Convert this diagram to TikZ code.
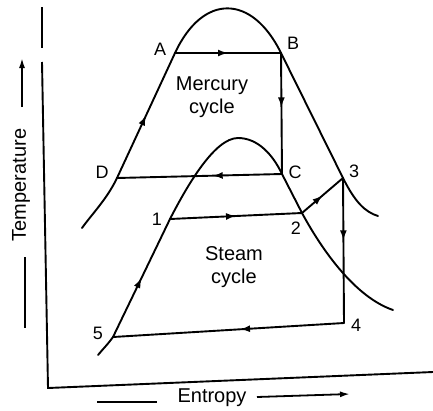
\documentclass[tikz,border=0pt]{standalone}
\usepackage{fontspec}
\setmainfont{Liberation Sans}
\usetikzlibrary{arrows.meta,decorations.markings}
\begin{document}
\begin{tikzpicture}[x=1pt,y=-1pt,
  curve/.style={line width=1.9pt, line join=round, line cap=round},
  midarrow/.style={curve, postaction={decorate},
    decoration={markings, mark=at position #1 with {\arrow{Latex[length=10pt,width=7pt]}}}},
  midarrow/.default=0.5,
  ptlabel/.style={font=\fontsize{18}{21}\selectfont, inner sep=0pt},
  cyclelabel/.style={font=\fontsize{20}{23}\selectfont, align=center, inner sep=0pt},
  axislabel/.style={font=\fontsize{20}{23}\selectfont, inner sep=0pt},
  axisline/.style={line width=1.9pt},
  labelarrow/.style={line width=1.8pt, -{Latex[length=10pt,width=6pt]}},
]
\useasboundingbox (0,0) rectangle (433,410);

% points
\coordinate (A) at (175,53);
\coordinate (B) at (281,53);
\coordinate (C) at (282,174);
\coordinate (D) at (117,178);
\coordinate (P1) at (170,219);
\coordinate (P2) at (302,213);
\coordinate (P3) at (343,178);
\coordinate (P4) at (344,323);
\coordinate (P5) at (113,337);
\coordinate (mL) at (82,228);
\coordinate (mR) at (378,216);
\coordinate (sL) at (98,355);
\coordinate (sR) at (393,310);
\coordinate (sTop) at (238,138);

% axes
\coordinate (yTop) at (42,7);
\coordinate (yGap1) at (42,48);
\coordinate (yGap2) at (42,62);
\coordinate (O) at (48,388);
\coordinate (xEnd) at (433,372);
\draw[axisline] (yTop) -- (yGap1);
\draw[axisline] (yGap2) -- (O) -- (xEnd);

% mercury dome
\draw[curve] (mL) .. controls (92,214) and (107,199) .. (D);
\draw[midarrow] (D) -- (A);
\draw[curve] (A) .. controls (203,-7) and (252,-6) .. (B) -- (P3)
  .. controls (355,202) and (365,212) .. (mR);

% steam dome
\draw[curve] (sL) .. controls (103,349) and (108,344) .. (P5);
\draw[midarrow] (P5) -- (P1);
\draw[curve] (P1) .. controls (188,184) and (215,138) .. (sTop)
  .. controls (258,138) and (273,155) .. (C) -- (P2)
  .. controls (322,250) and (355,297) .. (sR);

% mercury cycle
\draw[midarrow] (A) -- (B);
\draw[midarrow=0.45] (B) -- (C);
\draw[midarrow=0.42] (C) -- (D);

% steam cycle
\draw[midarrow] (P1) -- (P2);
\draw[midarrow] (P2) -- (P3);
\draw[midarrow=0.43] (P3) -- (P4);
\draw[midarrow=0.45] (P4) -- (P5);

% point labels
\node[ptlabel] (lA) at (160,49) {A};
\node[ptlabel] (lB) at (293,43) {B};
\node[ptlabel] (lC) at (295,172) {C};
\node[ptlabel] (lD) at (102,172) {D};
\node[ptlabel] (l1) at (157,219) {1};
\node[ptlabel] (l2) at (296,228) {2};
\node[ptlabel] (l3) at (354,171) {3};
\node[ptlabel] (l4) at (356,325) {4};
\node[ptlabel] (l5) at (98,333) {5};

% cycle labels
\node[cyclelabel] (merc) at (212,97) {Mercury\\cycle};
\node[cyclelabel] (steam) at (234,267) {Steam\\cycle};

% axis labels
\node[axislabel, rotate=90] (temp) at (21,185) {Temperature};
\coordinate (tA0) at (22,107);
\coordinate (tA1) at (22,58);
\coordinate (tD0) at (25,257);
\coordinate (tD1) at (25,328);
\draw[labelarrow] (tA0) -- (tA1);
\draw[line width=1.8pt] (tD0) -- (tD1);

\node[axislabel] (ent) at (212,398) {Entropy};
\coordinate (eD0) at (97,402);
\coordinate (eD1) at (157,402);
\coordinate (eA0) at (257,397);
\coordinate (eA1) at (350,394);
\draw[line width=1.8pt] (eD0) -- (eD1);
\draw[labelarrow] (eA0) -- (eA1);
\end{tikzpicture}
\end{document}
